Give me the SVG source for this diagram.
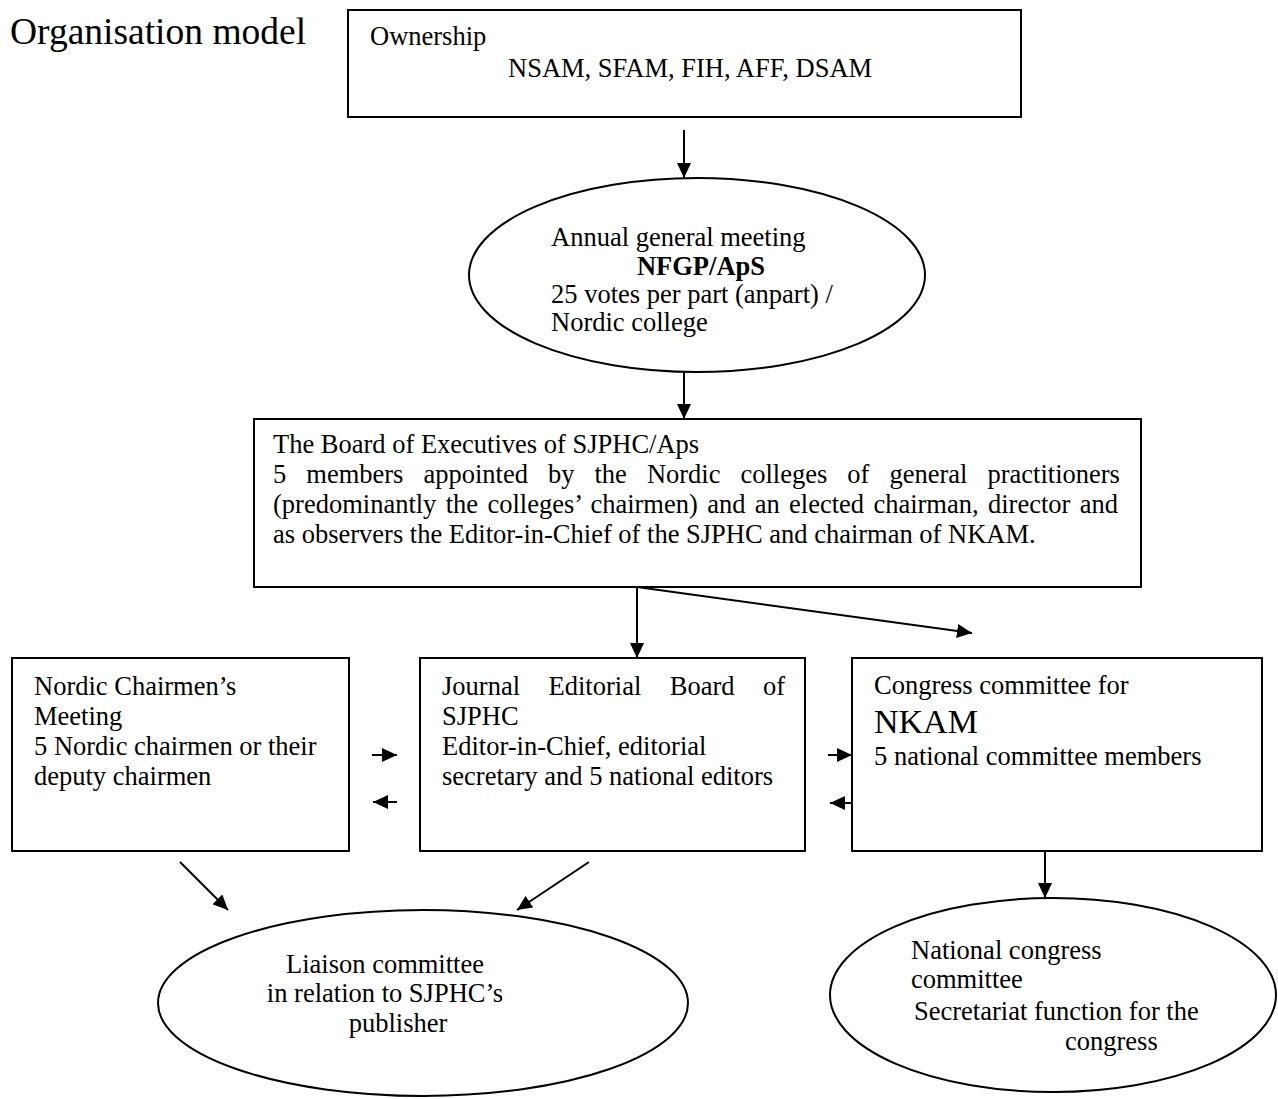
<svg xmlns="http://www.w3.org/2000/svg" width="1278" height="1099" viewBox="0 0 1278 1099">
<style>
  .box { fill: #fff; stroke: #000; stroke-width: 2; }
  .ell { fill: #fff; stroke: #000; stroke-width: 2; }
  .t { font-family: "Liberation Serif", "Times New Roman", serif; font-size: 26.5px; fill: #000; }
  .big { font-size: 34px; }
  .title { font-size: 37.5px; }
  .b { font-weight: bold; }
  .conn line { stroke: #000; stroke-width: 2; marker-end: url(#ah); }
</style>
<defs>
  <marker id="ah" markerUnits="userSpaceOnUse" markerWidth="15" markerHeight="14" refX="15" refY="7" orient="auto">
    <path d="M0,0 L15,7 L0,14 z" fill="#000"/>
  </marker>
</defs>
<rect width="1278" height="1099" fill="#fff"/>
<text class="t title" x="10" y="44">Organisation model</text>

<g id="ownership">
  <rect class="box" x="348" y="10" width="673" height="107"/>
  <text class="t" x="370" y="45">Ownership</text>
  <text class="t" x="508" y="77">NSAM, SFAM, FIH, AFF, DSAM</text>
</g>

<g id="agm">
  <ellipse class="ell" cx="697" cy="275" rx="228" ry="97"/>
  <text class="t" x="551" y="246">Annual general meeting</text>
  <text class="t b" x="701" y="275" text-anchor="middle">NFGP/ApS</text>
  <text class="t" x="551" y="303">25 votes per part (anpart) /</text>
  <text class="t" x="551" y="331">Nordic college</text>
</g>

<g id="board">
  <rect class="box" x="254" y="419" width="887" height="168"/>
  <text class="t" x="273" y="453">The Board of Executives of SJPHC/Aps</text>
  <text class="t" x="273" y="483" word-spacing="13.4">5 members appointed by the Nordic colleges of general practitioners</text>
  <text class="t" x="273" y="513" word-spacing="2.7">(predominantly the colleges’ chairmen) and an elected chairman, director and</text>
  <text class="t" x="273" y="543">as observers the Editor-in-Chief of the SJPHC and chairman of NKAM.</text>
</g>

<g id="chairmen">
  <rect class="box" x="12" y="658" width="337" height="193"/>
  <text class="t" x="34" y="695">Nordic Chairmen’s</text>
  <text class="t" x="34" y="725">Meeting</text>
  <text class="t" x="34" y="755">5 Nordic chairmen or their</text>
  <text class="t" x="34" y="785">deputy chairmen</text>
</g>

<g id="editorial">
  <rect class="box" x="420" y="658" width="385" height="193"/>
  <text class="t" x="442" y="695" word-spacing="21.9">Journal Editorial Board of</text>
  <text class="t" x="442" y="725">SJPHC</text>
  <text class="t" x="442" y="755">Editor-in-Chief, editorial</text>
  <text class="t" x="442" y="785">secretary and 5 national editors</text>
</g>

<g id="congress">
  <rect class="box" x="852" y="658" width="410" height="193"/>
  <text class="t" x="874" y="694">Congress committee for</text>
  <text class="t big" x="874" y="733">NKAM</text>
  <text class="t" x="874" y="765">5 national committee members</text>
</g>

<g id="liaison">
  <ellipse class="ell" cx="423" cy="1003" rx="265" ry="93"/>
  <text class="t" x="385" y="973" text-anchor="middle">Liaison committee</text>
  <text class="t" x="385" y="1002" text-anchor="middle">in relation to SJPHC’s</text>
  <text class="t" x="398" y="1032" text-anchor="middle">publisher</text>
</g>

<g id="national">
  <ellipse class="ell" cx="1053" cy="995" rx="223" ry="97"/>
  <text class="t" x="911" y="959">National congress</text>
  <text class="t" x="911" y="988">committee</text>
  <text class="t" x="914" y="1020">Secretariat function for the</text>
  <text class="t" x="1065" y="1050">congress</text>
</g>

<g id="connectors" class="conn">
  <line x1="684" y1="130" x2="684" y2="178"/>
  <line x1="684" y1="372" x2="684" y2="419"/>
  <line x1="637" y1="587" x2="637" y2="658"/>
  <line x1="637" y1="587" x2="972" y2="633"/>
  <line x1="372" y1="755" x2="397" y2="755"/>
  <line x1="397" y1="802" x2="373" y2="802"/>
  <line x1="828" y1="755" x2="852" y2="755"/>
  <line x1="852" y1="803" x2="830" y2="803"/>
  <line x1="180" y1="862" x2="228" y2="910"/>
  <line x1="589" y1="862" x2="517" y2="910"/>
  <line x1="1045" y1="851" x2="1045" y2="898"/>
</g>
</svg>
